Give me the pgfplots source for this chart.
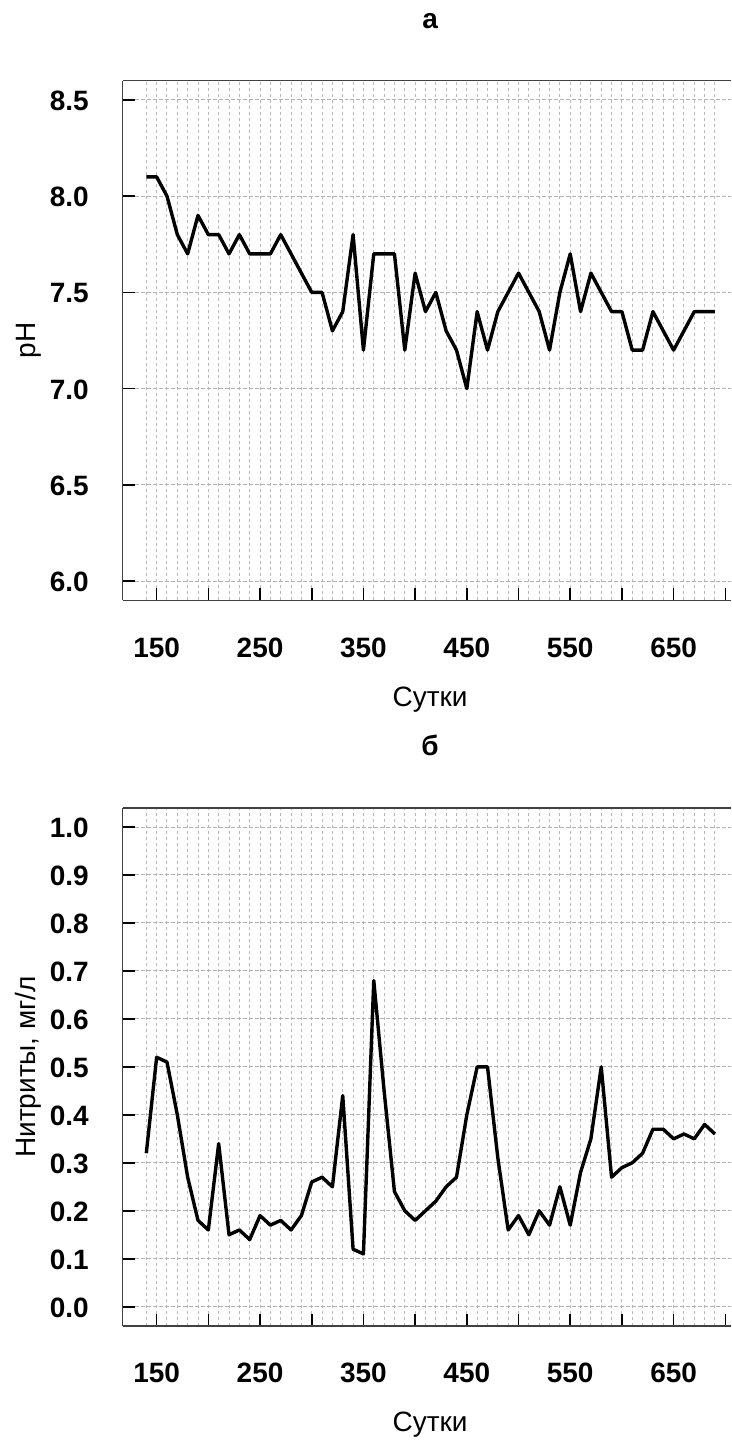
\documentclass[border=0pt]{standalone}
\usepackage{fontspec}
\setmainfont{Liberation Sans}
\usepackage{pgfplots}
\pgfplotsset{compat=1.18}

\pgfplotsset{
 common/.style={
  scale only axis, width=608.3pt,
  xmin=117.1, xmax=705.1,
  axis y line*=left,
  xtick pos=bottom, ytick pos=left,
  xtick={150,200,...,700},
  xticklabels={150,,250,,350,,450,,550,,650,},
  minor xtick={140,150,...,690},
  xminorgrids=true, xmajorgrids=false, ymajorgrids=true,
  minor x grid style={black!28, line width=1pt, dash pattern=on 3pt off 3pt},
  major grid style={black!30, line width=1pt, dash pattern=on 4pt off 2pt},
  tick align=inside, major tick length=12pt, minor tick length=0pt,
  tick style={black, line width=1.6pt},
  axis line style={black!75, line width=1.6pt},
  every tick label/.append style={font=\fontsize{28}{32}\selectfont\bfseries, inner sep=0pt},
  xticklabel style={anchor=base, yshift=-57pt},
  yticklabel style={anchor=base east, xshift=-33.7pt, yshift=-10.5pt},
  every axis x label/.style={at={(axis description cs:0.5,0)}, anchor=base, xshift=3.5pt, yshift=-106pt, font=\fontsize{28}{32}\selectfont},
  every axis y label/.style={at={(axis description cs:-0.1425,0.5)}, rotate=90, anchor=base, font=\fontsize{28}{32}\selectfont},
  every axis title/.style={at={(axis description cs:0.5,1)}, anchor=base, xshift=3.5pt, yshift=52pt, font=\fontsize{28}{32}\selectfont\bfseries},
 }
}

\begin{document}
\begin{tikzpicture}[x=1pt,y=1pt]
\path (0,0) rectangle (731,1441);
% top panel
\begin{axis}[common, at={(122.7pt,840.3pt)}, anchor=south west,
  height=520pt, ymin=5.9, ymax=8.6,
  ytick={6.0,6.5,7.0,7.5,8.0,8.5},
  yticklabels={6.0,6.5,7.0,7.5,8.0,8.5},
  xlabel={Сутки}, ylabel={pH}, title={а}]
\addplot[black, line width=3.4pt, line join=round] coordinates {
(140,8.1)(150,8.1)(160,8.0)(170,7.8)(180,7.7)(190,7.9)(200,7.8)(210,7.8)
(220,7.7)(230,7.8)(240,7.7)(250,7.7)(260,7.7)(270,7.8)(280,7.7)(290,7.6)
(300,7.5)(310,7.5)(320,7.3)(330,7.4)(340,7.8)(350,7.2)(360,7.7)(370,7.7)
(380,7.7)(390,7.2)(400,7.6)(410,7.4)(420,7.5)(430,7.3)(440,7.2)(450,7.0)
(460,7.4)(470,7.2)(480,7.4)(490,7.5)(500,7.6)(510,7.5)(520,7.4)(530,7.2)
(540,7.5)(550,7.7)(560,7.4)(570,7.6)(580,7.5)(590,7.4)(600,7.4)(610,7.2)
(620,7.2)(630,7.4)(640,7.3)(650,7.2)(660,7.3)(670,7.4)(680,7.4)(690,7.4)
};
\end{axis}
% bottom panel
\begin{axis}[common, at={(122.7pt,114.3pt)}, anchor=south west,
  height=518.4pt, ymin=-0.04, ymax=1.04,
  ytick={0,0.1,0.2,0.3,0.4,0.5,0.6,0.7,0.8,0.9,1.0},
  yticklabels={0.0,0.1,0.2,0.3,0.4,0.5,0.6,0.7,0.8,0.9,1.0},
  xlabel={Сутки}, ylabel={Нитриты, мг/л}, title={б}]
\addplot[black, line width=3.4pt, line join=round] coordinates {
(140,0.32)(150,0.52)(160,0.51)(170,0.40)(180,0.27)(190,0.18)(200,0.16)(210,0.34)
(220,0.15)(230,0.16)(240,0.14)(250,0.19)(260,0.17)(270,0.18)(280,0.16)(290,0.19)
(300,0.26)(310,0.27)(320,0.25)(330,0.44)(340,0.12)(350,0.11)(360,0.68)(370,0.45)
(380,0.24)(390,0.20)(400,0.18)(410,0.20)(420,0.22)(430,0.25)(440,0.27)(450,0.40)
(460,0.50)(470,0.50)(480,0.31)(490,0.16)(500,0.19)(510,0.15)(520,0.20)(530,0.17)
(540,0.25)(550,0.17)(560,0.28)(570,0.35)(580,0.50)(590,0.27)(600,0.29)(610,0.30)
(620,0.32)(630,0.37)(640,0.37)(650,0.35)(660,0.36)(670,0.35)(680,0.38)(690,0.36)
};
\end{axis}
\end{tikzpicture}
\end{document}
